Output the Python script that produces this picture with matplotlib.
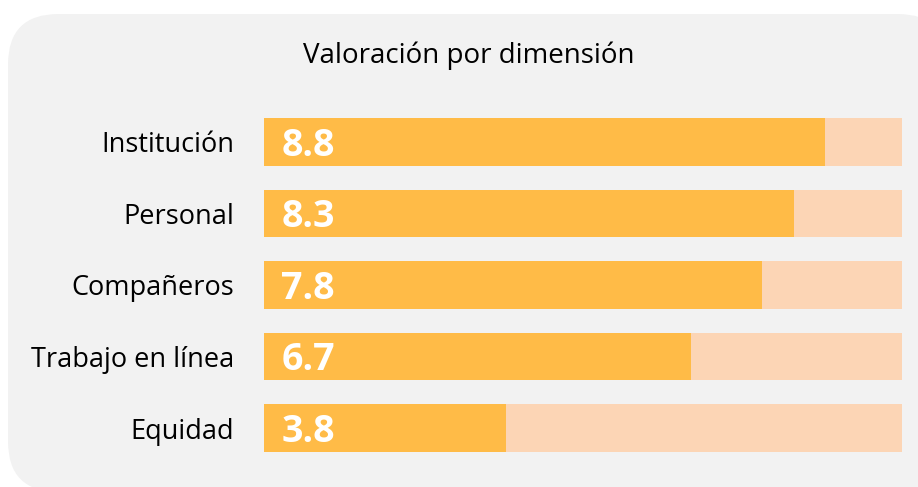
import matplotlib.pyplot as plt
from matplotlib.patches import FancyBboxPatch

categorias = ["Institución", "Personal", "Compañeros", "Trabajo en línea", "Equidad"]
valores = [8.8, 8.3, 7.8, 6.7, 3.8]
maximo = 10

plt.rcParams['font.family'] = ['Open Sans', 'DejaVu Sans']

W, H = 918, 487
fig = plt.figure(figsize=(W / 100, H / 100), dpi=100)
fig.patch.set_facecolor("white")

# fondo gris redondeado
fondo = FancyBboxPatch((8 / W, -0.01), 940 / W, (H - 14) / H + 0.01,
                       boxstyle="round,pad=0,rounding_size=0.055",
                       transform=fig.transFigure, facecolor="#f2f2f2",
                       edgecolor="none", mutation_aspect=W / H, zorder=0)
fig.patches.append(fondo)

ax = fig.add_axes([264 / W, 1 - 463.75 / H, 638 / W, 357.5 / H])
ax.set_facecolor("none")
ax.set_zorder(2)

y = list(range(len(categorias)))[::-1]
ax.barh(y, [maximo] * len(valores), height=0.67, color="#fcd5b5", zorder=1)
ax.barh(y, valores, height=0.67, color="#ffbb47", zorder=2)

for yi, v in zip(y, valores):
    ax.text(0.27, yi - 0.05, f"{v:.1f}", color="white", fontsize=27,
            fontweight="bold", ha="left", va="center", zorder=3)

ax.set_xlim(0, maximo)
ax.set_ylim(-0.5, len(categorias) - 0.5)
ax.set_yticks(y)
ax.set_yticklabels(categorias, fontsize=19.5, color="black")
ax.tick_params(axis="y", length=0, pad=21.5)
ax.set_xticks([])
for s in ax.spines.values():
    s.set_visible(False)

fig.text(469 / W, 1 - 56 / H, "Valoración por dimensión", ha="center",
         va="center", fontsize=20, color="black", zorder=3)

fig.savefig("out.png", dpi=100)
